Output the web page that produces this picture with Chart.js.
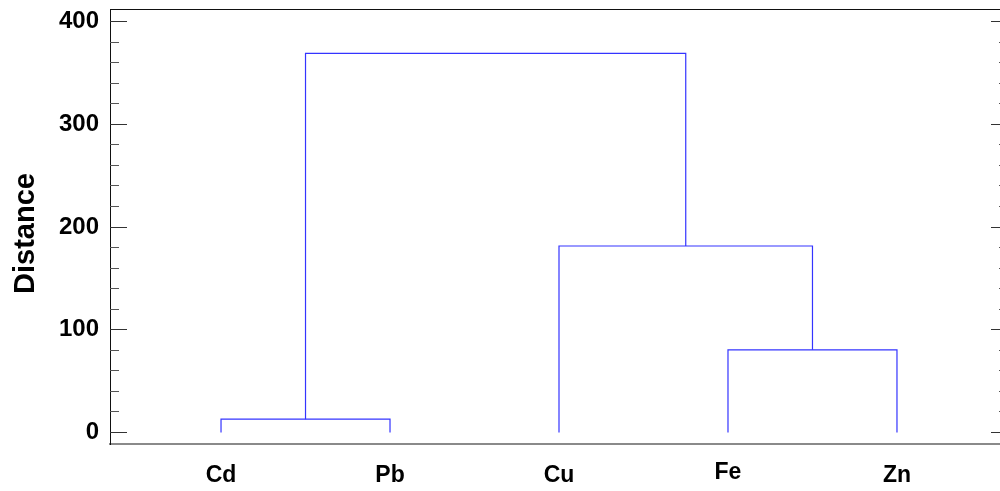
<!DOCTYPE html>
<html>
<head>
<meta charset="utf-8">
<script src="https://cdn.jsdelivr.net/npm/chart.js@4.4.1/dist/chart.umd.min.js"></script>
<style>
  html, body { margin: 0; padding: 0; background: #fff; overflow: hidden; }
  #wrap { width: 1000px; height: 491px; overflow: hidden; position: relative; }
  canvas { display: block; }
</style>
</head>
<body>
<div id="wrap"><canvas id="c" width="1010" height="491"></canvas></div>
<script>
// Leaves of the dendrogram, in plotting order
const leafNames = ['Cd', 'Pb', 'Cu', 'Fe', 'Zn'];
// Agglomeration steps: clusters 0..4 are the leaves, step k creates cluster 5 + k
const mergeLeft   = [0, 3, 2, 5];
const mergeRight  = [1, 4, 6, 7];
const mergeHeight = [13, 80.5, 181.5, 369];
// Distance axis
const yTickValues = [0, 100, 200, 300, 400];
const yMinorStep = 20;

// Each leaf sits at 1..n; a merged cluster sits midway between its two children
const nodeX = leafNames.map((_, i) => i + 1);
const nodeH = leafNames.map(() => 0);
const links = [];
mergeLeft.forEach((a, k) => {
  const b = mergeRight[k];
  const h = mergeHeight[k];
  links.push([
    { x: nodeX[a], y: nodeH[a] },
    { x: nodeX[a], y: h },
    { x: nodeX[b], y: h },
    { x: nodeX[b], y: nodeH[b] }
  ]);
  nodeX.push((nodeX[a] + nodeX[b]) / 2);
  nodeH.push(h);
});

const FONT = '"Liberation Sans", Arial, Helvetica, sans-serif';

// Top rule and inward tick marks on both vertical edges
const framePlugin = {
  id: 'frame',
  afterDraw(chart) {
    const { ctx, chartArea: a, scales: { y } } = chart;
    ctx.save();
    ctx.strokeStyle = '#111';
    ctx.lineWidth = 1;
    ctx.beginPath();
    ctx.moveTo(a.left, a.top + 0.5);
    ctx.lineTo(a.right, a.top + 0.5);
    ctx.stroke();

    const top = yTickValues[yTickValues.length - 1];
    for (let v = yTickValues[0]; v <= top; v += yMinorStep) {
      const major = yTickValues.includes(v);
      const len = major ? 17 : 9;
      const py = Math.floor(y.getPixelForValue(v)) + 0.5;
      ctx.strokeStyle = major ? '#333' : '#555';
      ctx.beginPath();
      ctx.moveTo(a.left, py);
      ctx.lineTo(a.left + len, py);
      ctx.moveTo(a.right, py);
      ctx.lineTo(a.right - len, py);
      ctx.stroke();
    }
    ctx.restore();
  }
};

// Leaf names under the axis and the rotated axis title
const textPlugin = {
  id: 'leafText',
  afterDraw(chart, args, opts) {
    const { ctx, chartArea: a, scales: { x } } = chart;
    ctx.save();
    ctx.fillStyle = '#000';
    ctx.font = 'bold 23px ' + FONT;
    ctx.textAlign = 'center';
    ctx.textBaseline = 'alphabetic';
    leafNames.forEach((name, i) => {
      const lift = (opts.lift && opts.lift[name]) || 0;
      ctx.fillText(name, x.getPixelForValue(i + 1), a.bottom + opts.baseline - lift);
    });

    ctx.font = 'bold 29px ' + FONT;
    ctx.translate(opts.titleX, opts.titleY);
    ctx.rotate(-Math.PI / 2);
    ctx.fillText(opts.title, 0, 0);
    ctx.restore();
  }
};

const datasets = links.map(pts => ({
  data: pts,
  borderColor: '#3434ff',
  borderWidth: 1.2,
  pointRadius: 0,
  tension: 0,
  fill: false
}));

new Chart(document.getElementById('c'), {
  type: 'line',
  data: { datasets },
  options: {
    responsive: false,
    devicePixelRatio: 1,
    animation: false,
    layout: { padding: { top: 9, right: 2, left: 0, bottom: 0 } },
    plugins: {
      legend: { display: false },
      tooltip: { enabled: false },
      leafText: {
        baseline: 37.5,
        lift: { Fe: 3 },
        title: 'Distance',
        titleX: 33.5,
        titleY: 233.5
      }
    },
    scales: {
      x: {
        type: 'linear',
        min: 0.343,
        max: 5.657,
        grid: { display: false, drawTicks: false },
        ticks: { display: false },
        border: { display: true, color: '#8a8a8a', width: 2 },
        afterFit(s) {
          s.height = 47;
          s.paddingLeft = 0;
          s.paddingRight = 0;
        }
      },
      y: {
        type: 'linear',
        min: -11.2,
        max: 412.2,
        grid: { display: false, drawTicks: false },
        border: { display: true, color: '#111', width: 1 },
        afterBuildTicks(s) { s.ticks = yTickValues.map(v => ({ value: v })); },
        ticks: {
          color: '#000',
          padding: 11,
          font: { family: FONT, size: 24, weight: 'bold' }
        },
        afterFit(s) {
          s.width = 110;
          s.paddingTop = 0;
          s.paddingBottom = 0;
        }
      }
    }
  },
  plugins: [framePlugin, textPlugin]
});
</script>
</body>
</html>
